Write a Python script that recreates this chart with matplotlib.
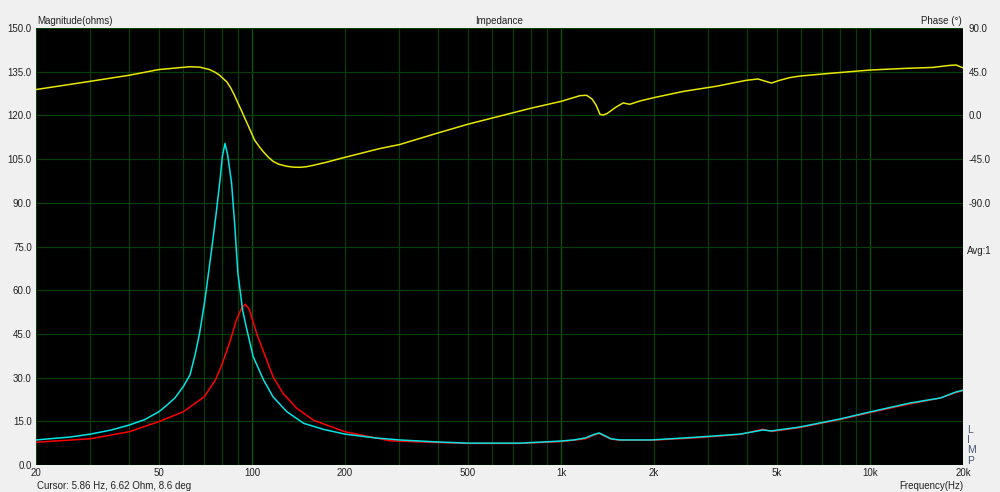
import matplotlib.pyplot as plt

# impedance curve 1 (cyan)
f_cyan = [20, 25.8, 30, 35, 40, 45, 50, 53, 56.3, 60, 63, 65.5, 67.7, 70.4, 74, 76.5,
          78.8, 80.2, 81.8, 83.4, 85.9, 88, 90, 93.3, 96, 100.9, 109, 117, 129.6, 147,
          170.8, 200, 250, 300, 400, 500, 737, 993, 1100, 1200, 1280, 1330, 1390, 1450,
          1550, 1960, 2800, 3800, 4500, 4800, 5900, 8000, 10000, 13500, 16900, 18900, 20000]
z_cyan = [8.6, 9.6, 10.6, 12.0, 13.7, 15.6, 18.3, 20.5, 23.0, 27.0, 30.9, 38.0, 45.3, 56.6, 73.8, 86.0,
          97.8, 106.0, 110.4, 106.5, 96.8, 82.0, 66.0, 53.0, 47.0, 37.2, 29.2, 23.4, 18.3, 14.3,
          12.2, 10.6, 9.3, 8.6, 7.9, 7.5, 7.5, 8.2, 8.6, 9.3, 10.5, 11.0, 10.0, 9.0,
          8.6, 8.6, 9.6, 10.6, 12.0, 11.7, 13.0, 15.8, 18.2, 21.3, 23.0, 25.0, 25.7]

# impedance curve 2 (red)
f_red = [20, 30, 40, 50, 60, 70, 76, 80, 84.8, 89.1, 92.5, 95.0, 98, 103.5, 109, 117,
         126, 139.5, 158, 200, 280, 400, 500, 737, 993, 1100, 1200, 1280, 1330, 1390,
         1450, 1550, 1960, 2800, 3800, 4500, 4800, 5900, 8000, 10000, 13500, 16900,
         18900, 20000]
z_red = [7.8, 9.0, 11.4, 14.9, 18.3, 23.4, 29.0, 34.5, 42.3, 49.8, 53.8, 55.2, 53.5, 45.2, 38.9, 30.3,
         24.6, 19.5, 15.4, 11.4, 8.3, 7.7, 7.4, 7.4, 8.0, 8.5, 9.0, 10.3, 10.8, 9.8,
         8.9, 8.5, 8.5, 9.4, 10.5, 12.3, 11.5, 12.8, 15.6, 18.0, 21.0, 23.0, 24.8, 25.5]

# phase (yellow, right axis)
f_phase = [20, 30, 40, 50, 58.5, 63, 67.7, 72.9, 76, 78.6, 81, 83, 85.5, 87.8, 90, 92.4, 94.7,
           97.1, 99.5, 102, 105.5, 109, 113, 117, 122, 129.6, 136, 143, 150, 158, 175, 192.7,
           225, 259, 300, 400, 500, 635, 800, 1000, 1152, 1210, 1260, 1300, 1338, 1370,
           1410, 1510, 1590, 1670, 1800, 2000, 2500, 3170, 3980, 4340, 4560, 4800,
           5100, 5500, 5930, 7500, 10000, 13000, 16000, 18000, 19000, 20000]
phase = [26.7, 35.2, 41.4, 47.3, 49.3, 50.2, 49.8, 47.3, 44.5, 41.4, 37.5, 34.5, 28.0, 20.7, 13.0,
         5.2, -2.5, -10.1, -17.8, -25.5, -32.0, -37.6, -43.0, -47.2, -50.2, -52.3, -53.2, -53.4, -52.8,
         -51.3, -48.0, -44.4, -39.0, -34.1, -30.0, -18.0, -9.0, -0.6, 7.5, 14.5, 20.4, 20.8, 17.0,
         10.5, 1.0, 0.5, 2.0, 8.8, 12.9, 11.5, 14.9, 18.4, 24.9, 30.0, 36.2, 37.6, 35.5, 33.4,
         36.2, 39.0, 40.6, 43.5, 46.8, 48.5, 49.5, 51.5, 52.0, 49.0]

x_ticks = [20, 50, 100, 200, 500, 1000, 2000, 5000, 10000, 20000]
x_labels = ["20", "50", "100", "200", "500", "1k", "2k", "5k", "10k", "20k"]
y_ticks = [i * 15 for i in range(11)]
phase_ticks = [-90, -45, 0, 45, 90]

plt.rcParams['font.family'] = ['Liberation Sans', 'DejaVu Sans']
bg = "#f0f0f0"
fig = plt.figure(figsize=(10, 4.92), dpi=100, facecolor=bg)
ax = fig.add_axes([0.036, 0.0549, 0.927, 0.888])
ax.set_facecolor("black")

grid_v = []
for dec in [10, 100, 1000, 10000]:
    for m in range(1, 10):
        v = dec * m
        if 20 <= v <= 20000:
            grid_v.append(v)
for v in grid_v:
    col = "#0b5a0b" if v in (100, 1000, 10000) else "#073d07"
    ax.axvline(v, color=col, linewidth=0.9, zorder=1)
for v in y_ticks:
    ax.axhline(v, color="#073d07", linewidth=0.9, zorder=1)

ax.plot(f_red, z_red, color="#ff0000", linewidth=1.1, zorder=3)
ax.plot(f_cyan, z_cyan, color="#00e5e5", linewidth=1.1, zorder=4)

ax.set_xscale("log")
ax.set_xlim(20, 20000)
ax.set_ylim(0, 150)
ax.set_xticks(x_ticks)
ax.set_xticklabels(x_labels)
ax.xaxis.set_minor_locator(plt.NullLocator())
ax.set_yticks(y_ticks)
ax.set_yticklabels([f"{v:.1f}" for v in y_ticks])
ax.tick_params(length=0, labelsize=7, colors="#222222", pad=3)
ax.tick_params(axis="x", pad=2.5)
for s in ax.spines.values():
    s.set_visible(False)

ax2 = ax.twinx()
ax2.plot(f_phase, phase, color="#e8e800", linewidth=1.1, zorder=5)
ax2.set_ylim(-360, 90)
ax2.set_yticks(phase_ticks)
ax2.set_yticklabels([f"{v:.1f}" for v in phase_ticks])
ax2.tick_params(length=0, labelsize=7, colors="#222222", pad=4)
for s in ax2.spines.values():
    s.set_visible(False)
ax2.set_xlim(20, 20000)

fig.text(0.037, 0.948, "Magnitude(ohms)", fontsize=7, ha="left", va="bottom", color="#222222")
fig.text(0.4995, 0.948, "Impedance", fontsize=7, ha="center", va="bottom", color="#222222")
fig.text(0.962, 0.948, "Phase (°)", fontsize=7, ha="right", va="bottom", color="#222222")
fig.text(0.037, 0.012, "Cursor: 5.86 Hz, 6.62 Ohm, 8.6 deg", fontsize=7, ha="left", va="center", color="#222222")
fig.text(0.963, 0.012, "Frequency(Hz)", fontsize=7, ha="right", va="center", color="#222222")
fig.text(0.967, 0.49, "Avg:1", fontsize=7, ha="left", va="center", color="#222222")
for i, ch in enumerate("LIMP"):
    fig.text(0.967, 0.127 - i * 0.021, ch, fontsize=7.5, ha="left", va="center", color="#445577")

fig.savefig("out.png", facecolor=bg)
